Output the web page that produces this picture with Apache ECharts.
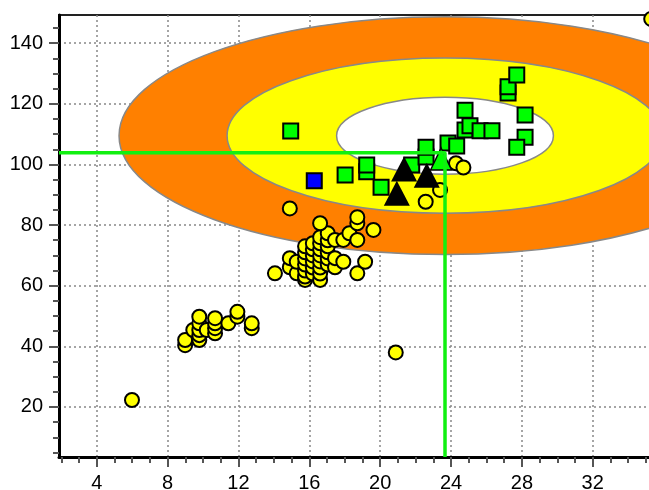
<!DOCTYPE html>
<html><head><meta charset="utf-8">
<script src="https://cdn.jsdelivr.net/npm/echarts@6/dist/echarts.min.js"></script>
<style>html,body{margin:0;padding:0;background:#fff}#c{width:649px;height:490px}</style>
</head><body><div id="c"></div>
<script>
// ---- axis ticks ----
const xTickLabels = [4, 8, 12, 16, 20, 24, 28, 32];
const xMinorTicks = [2,3,4,5,6,7,8,9,10,11,12,13,14,15,16,17,18,19,20,21,22,23,24,25,26,27,28,29,30,31,32,33,34,35];
const yTickLabels = [20, 40, 60, 80, 100, 120, 140];
const yMinorTicks = [5,10,15,20,25,30,35,40,45,50,55,60,65,70,75,80,85,90,95,100,105,110,115,120,125,130,135,140,145];
const xRange = [1.87, 35.74];
const yRange = [3.5, 149.3];

// ---- confidence ellipses: [centerX, centerY, radiusX, radiusY] ----
const ellipses = [
  [23.66, 109.5, 18.4, 39.2],
  [23.66, 109.5, 12.3, 25.6],
  [23.66, 109.5, 6.12, 12.7]
];
const ellipseColors = ['#FF8000', '#FFFF00', '#FFFFFF'];

// ---- reference point (green cross lines) ----
const refX = 23.66;
const refY = 103.9;

// ---- yellow circles ----
const yellowCircles = [
  [5.99,22.3],
  [8.99,40.4],[8.99,42.1],[9.45,45.4],[9.79,42.1],[9.79,43.7],[9.79,45.4],[9.79,47.6],[9.79,49.8],
  [10.21,45.4],[10.68,44.3],[10.68,46.0],[10.68,47.6],[10.68,49.3],[11.43,47.6],
  [11.94,49.8],[11.94,51.4],[12.75,46.0],[12.75,47.6],
  [20.88,38.0],
  [14.06,64.1],[14.9,66.1],[14.9,69.1],[15.29,64.1],[15.29,67.9],
  [15.76,61.9],[15.76,63],[15.76,65],[15.76,67],[15.76,69],[15.76,71],[15.76,73],
  [16.2,64],[16.2,66],[16.2,68],[16.2,70],[16.2,72],[16.2,74],
  [16.61,61.9],[16.61,64],[16.61,66],[16.61,68],[16.61,70],[16.61,72],[16.61,74],[16.61,76],
  [17.04,67],[17.04,69],[17.04,71],[17.04,73],[17.04,75],[17.04,77.3],
  [17.45,66.1],[17.45,69.1],[17.45,75.1],[17.92,67.9],[17.92,75.1],[18.26,77.3],
  [18.71,64.1],[18.71,75.1],[19.15,67.9],[19.62,78.4],
  [14.9,85.5],[16.61,80.6],[18.71,80.6],[18.71,82.6],
  [22.57,87.7],[23.38,91.6],[24.28,100.4],[24.7,99.0],
  [35.3,148]
];

// ---- green squares ----
const greenSquares = [
  [14.95,111.0],[18.02,96.5],[19.24,97.6],[19.24,99.8],[20.05,92.5],[21.78,99.8],
  [22.59,102.5],[22.59,105.7],[23.83,107.1],[24.32,106.1],
  [24.79,111.4],[25.07,112.8],[24.79,117.9],[25.64,111.1],[26.31,111.1],
  [27.22,123.6],[27.22,125.6],[27.71,129.5],[28.18,116.3],[28.18,109.0],[27.71,105.7]
];

// ---- blue square ----
const blueSquares = [[16.28,94.6]];

// ---- black triangles ----
const blackTriangles = [[21.35,98.5],[20.94,90.5],[22.63,96.4]];

// ---- green triangle ----
const greenTriangles = [[23.44,101.8]];

const FONT = 'Liberation Sans';
const tickStyle = {color:'#555', width:2};

const chart = echarts.init(document.getElementById('c'), null, {renderer:'canvas'});
chart.setOption({
  animation: false,
  backgroundColor: '#fff',
  grid: {left:59, top:15, width:600, height:442, outerBoundsMode:'none', containLabel:false,
         show:true, borderColor:'#222', borderWidth:2, backgroundColor:'transparent'},
  xAxis: [
    {
      type:'value', min:xRange[0], max:xRange[1], position:'bottom',
      axisLine:{show:true, onZero:false, lineStyle:{color:'#000', width:3}},
      axisTick:{show:true, inside:false, length:10, customValues:xTickLabels, lineStyle:tickStyle},
      axisLabel:{show:true, customValues:xTickLabels, margin:16, color:'#000', fontFamily:FONT, fontSize:20},
      splitLine:{show:true, lineStyle:{color:'#888', type:[2,3], width:1.5}}
    },
    {
      type:'value', min:xRange[0], max:xRange[1], position:'bottom', offset:0,
      axisLine:{show:false, onZero:false},
      axisTick:{show:true, length:6, customValues:xMinorTicks, lineStyle:tickStyle},
      axisLabel:{show:false},
      splitLine:{show:false}
    }
  ],
  yAxis: [
    {
      type:'value', min:yRange[0], max:yRange[1], position:'left',
      axisLine:{show:true, onZero:false, lineStyle:{color:'#000', width:3}},
      axisTick:{show:true, length:10, customValues:yTickLabels, lineStyle:tickStyle},
      axisLabel:{show:true, customValues:yTickLabels, margin:16, color:'#000', fontFamily:FONT, fontSize:20},
      splitLine:{show:true, lineStyle:{color:'#888', type:[2,3], width:1.5}}
    },
    {
      type:'value', min:yRange[0], max:yRange[1], position:'left', offset:0,
      axisLine:{show:false, onZero:false},
      axisTick:{show:true, length:6, customValues:yMinorTicks, lineStyle:tickStyle},
      axisLabel:{show:false},
      splitLine:{show:false}
    }
  ],
  series: [
    {
      type:'custom', xAxisIndex:0, yAxisIndex:0, clip:true,
      data: ellipses,
      encode:{x:0, y:1},
      renderItem: function(params, api){
        const c = api.coord([api.value(0), api.value(1)]);
        const s = api.size([api.value(2), api.value(3)]);
        return {
          type:'ellipse',
          shape:{cx:c[0], cy:c[1], rx:s[0], ry:s[1]},
          style:{fill:ellipseColors[params.dataIndex], stroke:'#888', lineWidth:1.5}
        };
      }
    },
    {
      type:'line', xAxisIndex:0, yAxisIndex:0, symbol:'none',
      data:[[xRange[0], refY],[refX, refY],[refX, yRange[0]]],
      lineStyle:{color:'#11f011', width:3.5}
    },
    {
      type:'scatter', xAxisIndex:0, yAxisIndex:0, symbol:'circle', symbolSize:14,
      data: yellowCircles,
      itemStyle:{color:'#FFFF00', borderColor:'#000', borderWidth:2, opacity:1}
    },
    {
      type:'scatter', xAxisIndex:0, yAxisIndex:0, symbol:'rect', symbolSize:15,
      data: greenSquares,
      itemStyle:{color:'#00FF00', borderColor:'#000', borderWidth:2, opacity:1}
    },
    {
      type:'scatter', xAxisIndex:0, yAxisIndex:0, symbol:'rect', symbolSize:15,
      data: blueSquares,
      itemStyle:{color:'#0000FF', borderColor:'#000', borderWidth:2, opacity:1}
    },
    {
      type:'scatter', xAxisIndex:0, yAxisIndex:0, symbol:'triangle', symbolSize:[26,25],
      data: blackTriangles,
      itemStyle:{color:'#000', borderColor:'#000', borderWidth:0, opacity:1}
    },
    {
      type:'scatter', xAxisIndex:0, yAxisIndex:0, symbol:'triangle', symbolSize:[21,22],
      data: greenTriangles,
      itemStyle:{color:'#00FF00', borderColor:'#000', borderWidth:1.5, opacity:1}
    }
  ]
});
</script>
</body></html>
